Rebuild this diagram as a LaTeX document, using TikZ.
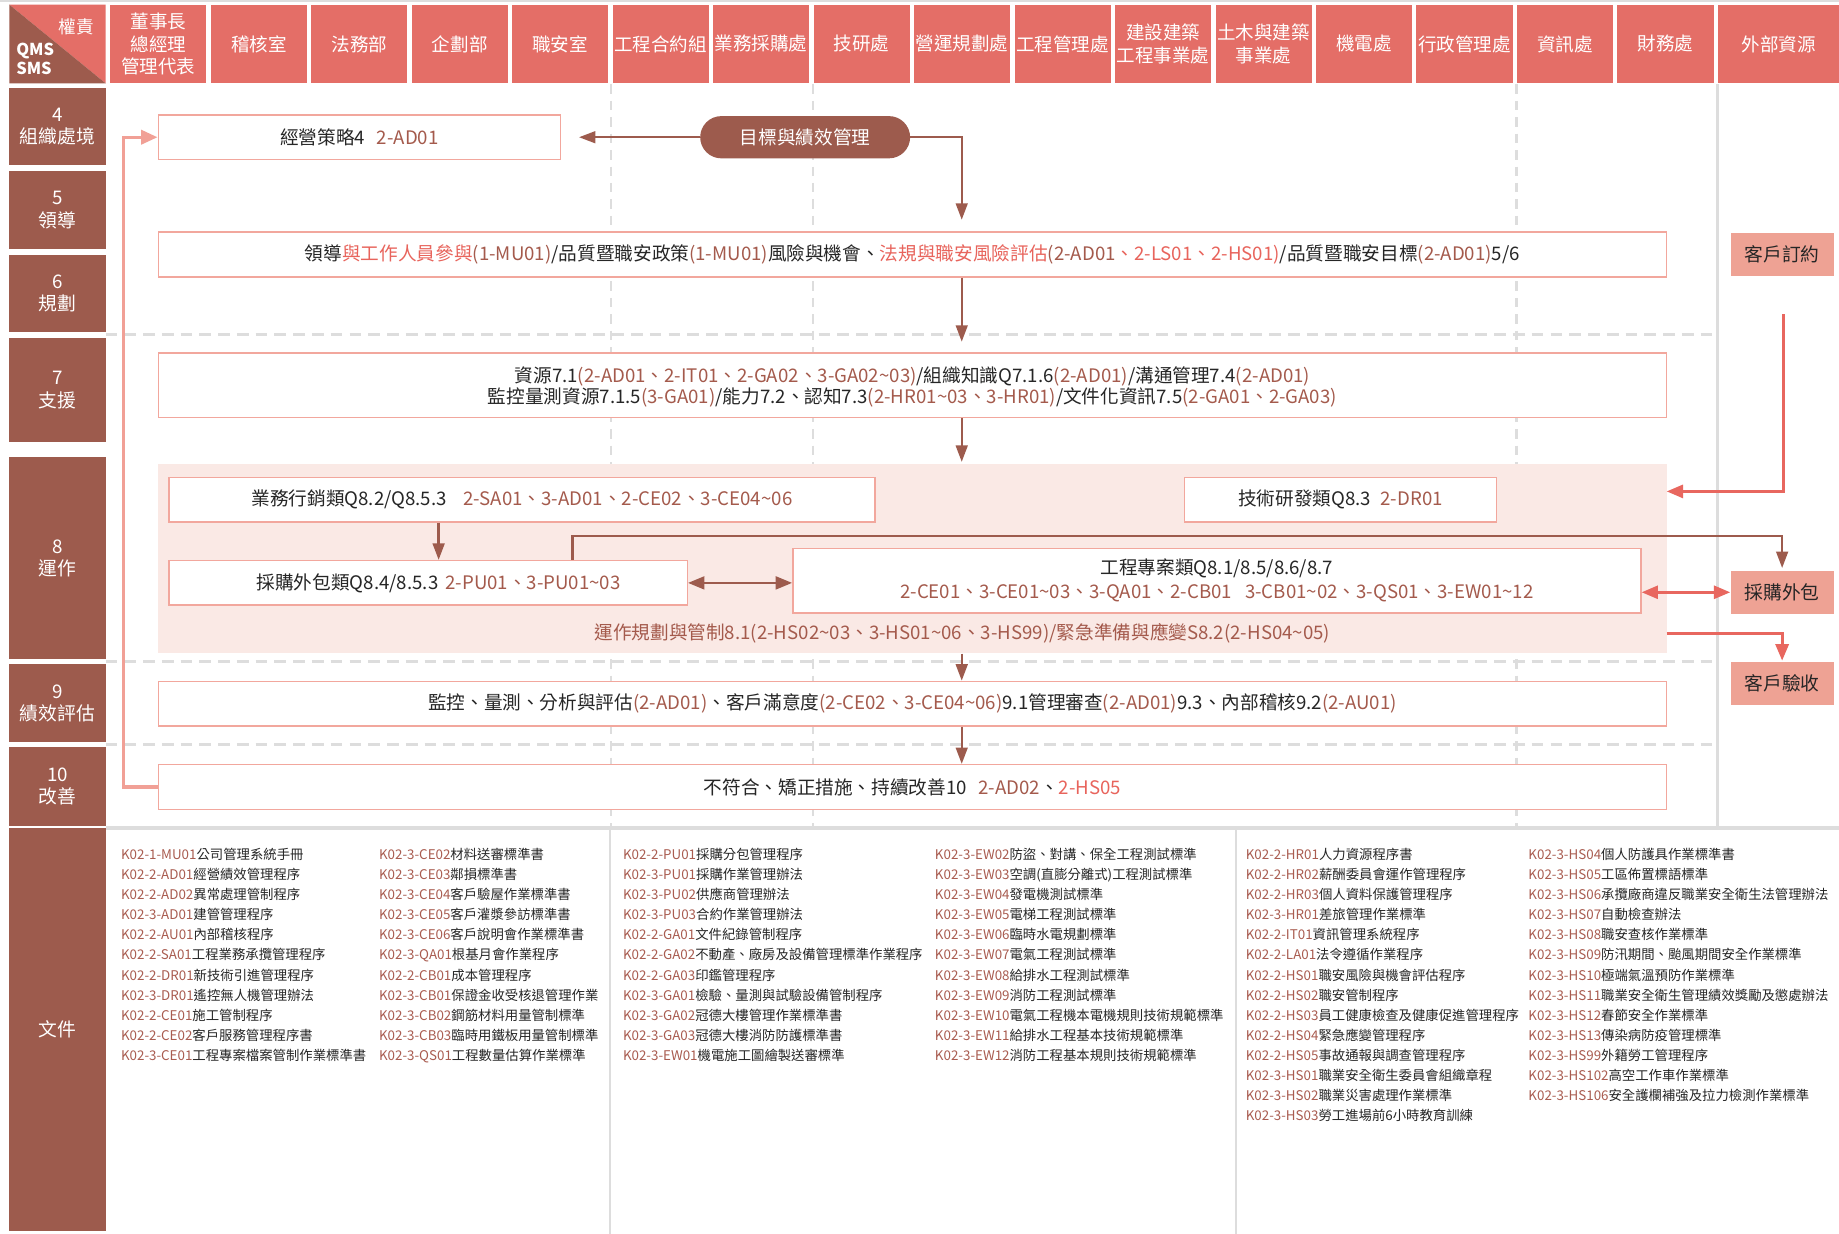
\documentclass[tikz,border=0pt]{standalone}
\usepackage{fontspec}
\setmainfont{Noto Sans CJK TC}
\usetikzlibrary{arrows.meta,calc}
\definecolor{brownT}{HTML}{9D5B4D}
\definecolor{salmonH}{HTML}{E46E67}
\definecolor{extF}{HTML}{EEA294}
\definecolor{bandF}{HTML}{FAE9E5}
\definecolor{boxB}{HTML}{F2A79D}
\definecolor{cdC}{HTML}{A45A4C}
\definecolor{rdC}{HTML}{E8645C}
\definecolor{dcC}{HTML}{A95C50}
\definecolor{arrB}{HTML}{9D5B4D}
\definecolor{arrR}{HTML}{E8675F}
\definecolor{fbC}{HTML}{F1A096}
\definecolor{gridC}{HTML}{DDDDDD}
\definecolor{txt}{HTML}{262626}
\newcommand\cdx[1]{\textcolor{cdC}{#1}}
\newcommand\rdx[1]{\textcolor{rdC}{#1}}
\newcommand\dcx[1]{\textcolor{dcC}{#1}}
\newcommand\tld{\textasciitilde}
\begin{document}
\begin{tikzpicture}[x=1pt,y=-1pt,
  hdr/.style={fill=salmonH, text=white, minimum width=82pt, minimum height=67pt, inner sep=0pt, align=center, font=\fontsize{15.8}{19}\selectfont},
  rowlab/.style={fill=brownT, text=white, minimum width=82pt, inner sep=0pt, align=center, font=\fontsize{16}{19}\selectfont},
  box/.style={draw=boxB, line width=1.3pt, fill=white, inner sep=0pt, align=center, text=txt, font=\fontsize{15.9}{19}\selectfont},
  ext/.style={fill=extF, text=txt, minimum width=88pt, minimum height=37pt, inner sep=0pt, font=\fontsize{16}{19}\selectfont},
  barrow/.style={draw=arrB, line width=2pt, -{Triangle[length=14pt,width=10pt]}},
  bdarrow/.style={draw=arrB, line width=2pt, {Triangle[length=14pt,width=11pt]}-{Triangle[length=14pt,width=11pt]}},
  rarrow/.style={draw=arrR, line width=2.6pt, -{Triangle[length=14pt,width=11pt]}},
  rdarrow/.style={draw=arrR, line width=2.6pt, {Triangle[length=14pt,width=11pt]}-{Triangle[length=14pt,width=11pt]}},
  fbarrow/.style={draw=fbC, line width=2.8pt, -{Triangle[length=14pt,width=12pt]}},
  vdash/.style={draw=gridC, line width=2pt, dash pattern=on 8pt off 6pt},
  hdash/.style={draw=gridC, line width=2.5pt, dash pattern=on 10pt off 6pt},
  doc/.style={anchor=base west, inner sep=0pt, text=txt, font=\fontsize{11.4}{14}\selectfont}
]
\fill[white] (0,0) rectangle (1568,1052);
\useasboundingbox (0,0) rectangle (1568,1052);
% grid
\draw[gridC, line width=1.5pt] (0,1) -- (1568,1);
\foreach \x in {521,693,1293} \draw[vdash] (\x,72) -- (\x,705);
\draw[gridC, line width=2.5pt] (1464,72) -- (1464,705);
\foreach \y in {285,564,635} \draw[hdash] (90,\y) -- (1462,\y);
\draw[gridC, line width=3pt] (90,706) -- (1568,706);
\foreach \x in {520,1054} \draw[gridC, line width=2pt] (\x,707) -- (\x,1052);
% header corner
\fill[salmonH] (8,4) -- (90,4) -- (90,71) -- cycle;
\fill[brownT] (8,4) -- (8,71) -- (90,71) -- cycle;
\node[text=white, inner sep=0pt, font=\fontsize{15}{18}\selectfont, name=auth] at (65,23) {權責};
\node[text=white, inner sep=0pt, align=left, font=\bfseries\fontsize{14}{16}\selectfont, name=qms] at (30,50) {QMS\\SMS};
% header tiles
\foreach \hname [count=\i from 0] in {{董事長\\總經理\\管理代表},稽核室,法務部,企劃部,職安室,工程合約組,業務採購處,技研處,營運規劃處,工程管理處,{建設建築\\工程事業處},{土木與建築\\事業處},機電處,行政管理處,資訊處,財務處}
  \node[hdr, name=h\i] at ({135+85.67*\i}, 37.5) {\hname};
\node[hdr, minimum width=103pt, name=hext] at (1516.5,37.5) {外部資源};
% row labels
\node[rowlab, minimum height=66pt, name=r4] at (49,108) {4\\組織處境};
\node[rowlab, minimum height=66pt, name=r5] at (49,179) {5\\領導};
\node[rowlab, minimum height=66pt, name=r6] at (49,250) {6\\規劃};
\node[rowlab, minimum height=89pt, name=r7] at (49,332.5) {7\\支援};
\node[rowlab, minimum height=172pt, name=r8] at (49,476) {8\\運作};
\node[rowlab, minimum height=67pt, name=r9] at (49,599.5) {9\\績效評估};
\node[rowlab, minimum height=67pt, name=r10] at (49,670.5) {10\\改善};
\node[rowlab, minimum height=344pt, name=rdoc] at (49,878) {文件};
% band
\node[fill=bandF, minimum width=1286pt, minimum height=161pt, inner sep=0pt, name=band] at (778,476.5) {};
% boxes
\node[box, minimum width=343pt, minimum height=38pt, name=strat] at (306.5,117) {經營策略4\hspace{10pt}\cdx{2-AD01}};
\node[fill=brownT, text=white, rounded corners=18pt, minimum width=179pt, minimum height=36pt, inner sep=0pt, font=\fontsize{15.9}{19}\selectfont, name=goal] at (686.5,117) {目標與績效管理};
\node[box, minimum width=1286pt, minimum height=38pt, name=lead] at (778,217) {領導\rdx{與工作人員參與}\cdx{(1-MU01)}/品質暨職安政策\cdx{(1-MU01)}風險與機會、\rdx{法規與職安風險評估}\cdx{(2-AD01}\rdx{、2-LS01、2-HS01)}/品質暨職安目標\cdx{(2-AD01)}5/6};
\node[box, minimum width=1286pt, minimum height=55pt, font=\fontsize{15.9}{18}\selectfont, name=res] at (778,328.5) {\rule{0pt}{16pt}資源7.1\cdx{(2-AD01、2-IT01、2-GA02、3-GA02\tld 03)}/組織知識Q7.1.6\cdx{(2-AD01)}/溝通管理7.4\cdx{(2-AD01)}\\監控量測資源7.1.5\cdx{(3-GA01)}/能力7.2、認知7.3\cdx{(2-HR01\tld 03、3-HR01)}/文件化資訊7.5\cdx{(2-GA01、2-GA03)}};
\node[box, minimum width=602pt, minimum height=38pt, name=mkt] at (445,426) {業務行銷類Q8.2/Q8.5.3\hspace{14pt}\cdx{2-SA01、3-AD01、2-CE02、3-CE04\tld 06}};
\node[box, minimum width=266pt, minimum height=38pt, name=tech] at (1143,426) {技術研發類Q8.3\hspace{8pt}\cdx{2-DR01}};
\node[box, minimum width=442pt, minimum height=38pt, name=pur] at (365,497) {\hspace{18pt}採購外包類Q8.4/8.5.3\hspace{6pt}\cdx{2-PU01、3-PU01\tld 03}};
\node[box, minimum width=723pt, minimum height=55pt, font=\fontsize{15.9}{20}\selectfont, name=proj] at (1037.5,495) {工程專案類Q8.1/8.5/8.6/8.7\\\cdx{2-CE01、3-CE01\tld 03、3-QA01、2-CB01\hspace{11pt}3-CB01\tld 02、3-QS01、3-EW01\tld 12}};
\node[inner sep=0pt, text=cdC, font=\fontsize{15.9}{19}\selectfont, name=optext] at (820.5,540) {運作規劃與管制8.1(2-HS02\tld 03、3-HS01\tld 06、3-HS99)/緊急準備與應變S8.2(2-HS04\tld 05)};
\node[box, minimum width=1286pt, minimum height=38pt, name=eval] at (778,600) {監控、量測、分析與評估\cdx{(2-AD01)}、客戶滿意度\cdx{(2-CE02、3-CE04\tld 06)}9.1管理審查\cdx{(2-AD01)}9.3、內部稽核9.2\cdx{(2-AU01)}};
\node[box, minimum width=1286pt, minimum height=38pt, name=imp] at (778,671) {不符合、矯正措施、持續改善10\hspace{10pt}\cdx{2-AD02}、\rdx{2-HS05}};
% external
\node[ext, name=ext1] at (1519.5,217) {客戶訂約};
\node[ext, name=ext2] at (1519.5,505) {採購外包};
\node[ext, name=ext3] at (1519.5,583) {客戶驗收};
% coordinates
\coordinate (spine) at (820,0);
\coordinate (mp) at (374,0);
\coordinate (up) at (488,457);
\coordinate (rs) at (1521,268);
\coordinate (rin) at (1421,419);
\coordinate (rout) at (1421,540);
\coordinate (fb) at (105,671);
% connectors
\draw[barrow, shorten >=15pt] (goal.west) -- (strat.east);
\draw[barrow, shorten >=10pt] (goal.east) -| (spine |- lead.north);
\draw[barrow, shorten >=9pt] (spine |- lead.south) -- (spine |- res.north);
\draw[barrow, shorten >=2pt] (spine |- res.south) -- (spine |- band.north);
\draw[barrow] (mp |- mkt.south) -- (mp |- pur.north);
\draw[bdarrow] (pur.east) -- (pur.east -| proj.west);
\draw[barrow, shorten >=2pt] (up |- pur.north) -- (up) -| (ext2.north);
\draw[rarrow] (rs) |- (rin);
\draw[rdarrow] (proj.east |- ext2.west) -- (ext2.west);
\draw[rarrow, shorten >=1pt] (rout) -| (ext3.north);
\draw[barrow] (spine |- band.south) -- (spine |- eval.north);
\draw[barrow] (spine |- eval.south) -- (spine |- imp.north);
\draw[fbarrow] (imp.west) -- (fb) |- (strat.west);
% documents
\foreach \a/\b [count=\i from 0] in {K02-1-MU01/公司管理系統手冊,K02-2-AD01/經營績效管理程序,K02-2-AD02/異常處理管制程序,K02-3-AD01/建管管理程序,K02-2-AU01/內部稽核程序,K02-2-SA01/工程業務承攬管理程序,K02-2-DR01/新技術引進管理程序,K02-3-DR01/遙控無人機管理辦法,K02-2-CE01/施工管制程序,K02-2-CE02/客戶服務管理程序書,K02-3-CE01/工程專案檔案管制作業標準書}
  \node[doc, name=da\i] at (103,{733+17.1*\i}) {\dcx{\a}\b};
\foreach \a/\b [count=\i from 0] in {K02-3-CE02/材料送審標準書,K02-3-CE03/鄰損標準書,K02-3-CE04/客戶驗屋作業標準書,K02-3-CE05/客戶灌漿參訪標準書,K02-3-CE06/客戶說明會作業標準書,K02-3-QA01/根基月會作業程序,K02-2-CB01/成本管理程序,K02-3-CB01/保證金收受核退管理作業,K02-3-CB02/鋼筋材料用量管制標準,K02-3-CB03/臨時用鐵板用量管制標準,K02-3-QS01/工程數量估算作業標準}
  \node[doc, name=db\i] at (323,{733+17.1*\i}) {\dcx{\a}\b};
\foreach \a/\b [count=\i from 0] in {K02-2-PU01/採購分包管理程序,K02-3-PU01/採購作業管理辦法,K02-3-PU02/供應商管理辦法,K02-3-PU03/合約作業管理辦法,K02-2-GA01/文件紀錄管制程序,K02-2-GA02/不動產、廠房及設備管理標準作業程序,K02-2-GA03/印鑑管理程序,K02-3-GA01/檢驗、量測與試驗設備管制程序,K02-3-GA02/冠德大樓管理作業標準書,K02-3-GA03/冠德大樓消防防護標準書,K02-3-EW01/機電施工圖繪製送審標準}
  \node[doc, name=dc\i] at (531,{733+17.1*\i}) {\dcx{\a}\b};
\foreach \a/\b [count=\i from 0] in {K02-3-EW02/防盜、對講、保全工程測試標準,K02-3-EW03/空調(直膨分離式)工程測試標準,K02-3-EW04/發電機測試標準,K02-3-EW05/電梯工程測試標準,K02-3-EW06/臨時水電規劃標準,K02-3-EW07/電氣工程測試標準,K02-3-EW08/給排水工程測試標準,K02-3-EW09/消防工程測試標準,K02-3-EW10/電氣工程機本電機規則技術規範標準,K02-3-EW11/給排水工程基本技術規範標準,K02-3-EW12/消防工程基本規則技術規範標準}
  \node[doc, name=dd\i] at (797,{733+17.1*\i}) {\dcx{\a}\b};
\foreach \a/\b [count=\i from 0] in {K02-2-HR01/人力資源程序書,K02-2-HR02/薪酬委員會運作管理程序,K02-2-HR03/個人資料保護管理程序,K02-3-HR01/差旅管理作業標準,K02-2-IT01/資訊管理系統程序,K02-2-LA01/法令遵循作業程序,K02-2-HS01/職安風險與機會評估程序,K02-2-HS02/職安管制程序,K02-2-HS03/員工健康檢查及健康促進管理程序,K02-2-HS04/緊急應變管理程序,K02-2-HS05/事故通報與調查管理程序,K02-3-HS01/職業安全衛生委員會組織章程,K02-3-HS02/職業災害處理作業標準,K02-3-HS03/勞工進場前6小時教育訓練}
  \node[doc, name=de\i] at (1062,{733+17.1*\i}) {\dcx{\a}\b};
\foreach \a/\b [count=\i from 0] in {K02-3-HS04/個人防護具作業標準書,K02-3-HS05/工區佈置標語標準,K02-3-HS06/承攬廠商違反職業安全衛生法管理辦法,K02-3-HS07/自動檢查辦法,K02-3-HS08/職安查核作業標準,K02-3-HS09/防汛期間、颱風期間安全作業標準,K02-3-HS10/極端氣溫預防作業標準,K02-3-HS11/職業安全衛生管理績效獎勵及懲處辦法,K02-3-HS12/春節安全作業標準,K02-3-HS13/傳染病防疫管理標準,K02-3-HS99/外籍勞工管理程序,K02-3-HS102/高空工作車作業標準,K02-3-HS106/安全護欄補強及拉力檢測作業標準}
  \node[doc, name=df\i] at (1303,{733+17.1*\i}) {\dcx{\a}\b};
\end{tikzpicture}
\end{document}
